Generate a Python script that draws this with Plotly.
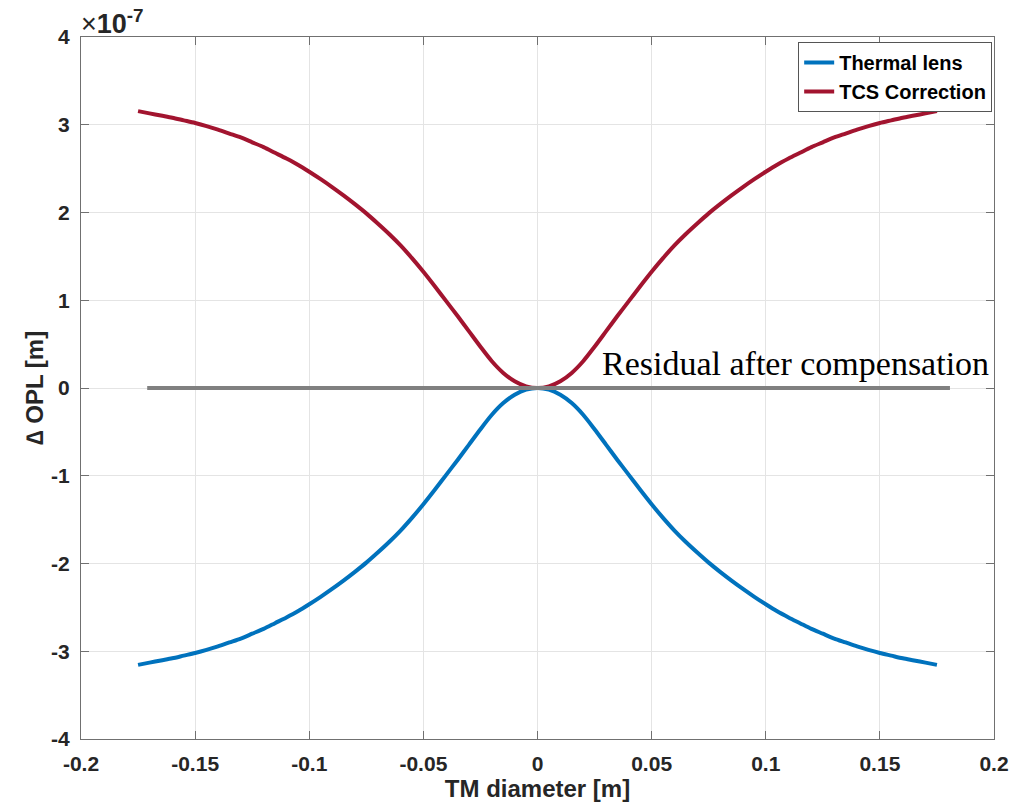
import plotly.graph_objects as go

# TM diameter positions [m]
x_pos = [-0.175, -0.17, -0.165, -0.16, -0.155, -0.15, -0.145, -0.14, -0.135, -0.13,
         -0.125, -0.12, -0.115, -0.11, -0.105, -0.10, -0.095, -0.09, -0.085, -0.08,
         -0.075, -0.07, -0.065, -0.06, -0.055, -0.05, -0.045, -0.04, -0.035, -0.03,
         -0.025, -0.02, -0.015, -0.01, -0.005, 0.0,
         0.005, 0.01, 0.015, 0.02, 0.025, 0.03, 0.035, 0.04, 0.045, 0.05,
         0.055, 0.06, 0.065, 0.07, 0.075, 0.08, 0.085, 0.09, 0.095, 0.10,
         0.105, 0.11, 0.115, 0.12, 0.125, 0.13, 0.135, 0.14, 0.145, 0.15,
         0.155, 0.16, 0.165, 0.17, 0.175]

# Thermal lens Delta OPL [1e-7 m]
thermal_lens_e7 = [-3.155, -3.13, -3.105, -3.08, -3.05, -3.02, -2.985, -2.945, -2.90, -2.855,
                   -2.80, -2.745, -2.68, -2.615, -2.545, -2.465, -2.38, -2.29, -2.195, -2.095,
                   -1.99, -1.875, -1.755, -1.625, -1.48, -1.325, -1.16, -0.99, -0.82, -0.645,
                   -0.47, -0.305, -0.172, -0.077, -0.019, 0.0,
                   -0.019, -0.077, -0.172, -0.305, -0.47, -0.645, -0.82, -0.99, -1.16, -1.325,
                   -1.48, -1.625, -1.755, -1.875, -1.99, -2.095, -2.195, -2.29, -2.38, -2.465,
                   -2.545, -2.615, -2.68, -2.745, -2.80, -2.855, -2.90, -2.945, -2.985, -3.02,
                   -3.05, -3.08, -3.105, -3.13, -3.155]

# TCS correction Delta OPL [1e-7 m]
tcs_correction_e7 = [3.155, 3.13, 3.105, 3.08, 3.05, 3.02, 2.985, 2.945, 2.90, 2.855,
                     2.80, 2.745, 2.68, 2.615, 2.545, 2.465, 2.38, 2.29, 2.195, 2.095,
                     1.99, 1.875, 1.755, 1.625, 1.48, 1.325, 1.16, 0.99, 0.82, 0.645,
                     0.47, 0.305, 0.172, 0.077, 0.019, 0.0,
                     0.019, 0.077, 0.172, 0.305, 0.47, 0.645, 0.82, 0.99, 1.16, 1.325,
                     1.48, 1.625, 1.755, 1.875, 1.99, 2.095, 2.195, 2.29, 2.38, 2.465,
                     2.545, 2.615, 2.68, 2.745, 2.80, 2.855, 2.90, 2.945, 2.985, 3.02,
                     3.05, 3.08, 3.105, 3.13, 3.155]

# Residual after compensation
residual_x = [-0.171, 0.1807]
residual_y_e7 = [0.0, 0.0]

SCALE = 1e-7
thermal_lens = [v * SCALE for v in thermal_lens_e7]
tcs_correction = [v * SCALE for v in tcs_correction_e7]
residual_y = [v * SCALE for v in residual_y_e7]

x_ticks = [-0.2, -0.15, -0.1, -0.05, 0, 0.05, 0.1, 0.15, 0.2]
x_ticktext = ["-0.2", "-0.15", "-0.1", "-0.05", "0", "0.05", "0.1", "0.15", "0.2"]
y_tick_units = [-4, -3, -2, -1, 0, 1, 2, 3, 4]
y_ticks = [v * SCALE for v in y_tick_units]
y_ticktext = [str(v) for v in y_tick_units]

SANS = "Liberation Sans, Arial, Helvetica, sans-serif"
TXT = "#262626"
AX = "#707070"

fig = go.Figure()
fig.add_trace(go.Scatter(x=x_pos, y=thermal_lens, mode="lines", name="Thermal lens",
                         line=dict(color="#0072BD", width=4, shape="spline",
                                   smoothing=0.8, simplify=False)))
fig.add_trace(go.Scatter(x=x_pos, y=tcs_correction, mode="lines", name="TCS Correction",
                         line=dict(color="#A2142F", width=4, shape="spline",
                                   smoothing=0.8, simplify=False)))
fig.add_trace(go.Scatter(x=residual_x, y=residual_y, mode="lines", showlegend=False,
                         line=dict(color="#808080", width=4)))

axis_common = dict(showline=True, linecolor=AX, linewidth=1, mirror="ticks",
                   ticks="inside", ticklen=8, tickcolor=AX, tickwidth=1,
                   showgrid=True, gridcolor="#e4e4e4", gridwidth=1, zeroline=False,
                   tickfont=dict(family=SANS, size=21, color=TXT, weight="bold"))

fig.update_xaxes(range=[-0.2, 0.2], tickvals=x_ticks, ticktext=x_ticktext,
                 ticklabelstandoff=6,
                 title=dict(text="<b>TM diameter [m]</b>", standoff=2,
                            font=dict(family=SANS, size=24, color=TXT)),
                 **axis_common)
fig.update_yaxes(range=[-4e-7, 4e-7], tickvals=y_ticks, ticktext=y_ticktext,
                 ticklabelstandoff=6,
                 title=dict(text="<b>∆ OPL [m]</b>", standoff=0,
                            font=dict(family=SANS, size=24, color=TXT)),
                 **axis_common)

fig.add_annotation(x=0, y=1, xref="paper", yref="paper", xanchor="left", yanchor="bottom",
                   text="×<b>10<sup>-7</sup></b>", showarrow=False, xshift=-2, yshift=-4,
                   font=dict(family=SANS, size=27, color=TXT))
fig.add_annotation(x=0.0272, y=0.05e-7, xref="x", yref="y", xanchor="left", yanchor="bottom",
                   text="Residual after compensation", showarrow=False,
                   font=dict(family="Liberation Serif, Times New Roman, serif", size=34,
                             color="#000000"))

fig.update_layout(
    width=1035, height=806,
    margin=dict(l=81, r=41, t=37, b=64),
    plot_bgcolor="white", paper_bgcolor="white",
    legend=dict(x=0.998, y=0.993, xanchor="right", yanchor="top",
                bgcolor="white", bordercolor="#555555", borderwidth=1,
                font=dict(family=SANS, size=20, color="#000000", weight="bold"),
                tracegroupgap=0, itemwidth=30),
    showlegend=True,
)

fig.write_html("out.html")
